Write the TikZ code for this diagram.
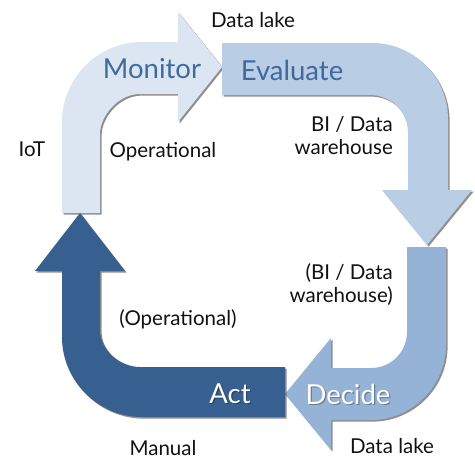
\documentclass[tikz,border=0pt]{standalone}
\usepackage{fontspec}
\setmainfont{Lato}
\usetikzlibrary{shadows}
\definecolor{monfill}{HTML}{DCE6F2}
\definecolor{evalfill}{HTML}{B9CDE5}
\definecolor{decfill}{HTML}{95B3D7}
\definecolor{actfill}{HTML}{375F8F}
\definecolor{headblue}{HTML}{3F6A9E}
\definecolor{labelgray}{HTML}{111111}
\begin{document}
\begin{tikzpicture}[x=1pt,y=-1pt,
  bentarrow/.style={draw=none, drop shadow={shadow xshift=1.6pt, shadow yshift=-1.6pt, opacity=0.55, fill=black!80}},
  headtext/.style={font=\fontsize{27.5}{32}\selectfont, anchor=base, inner sep=0pt},
  sidetext/.style={font=\fontsize{20.5}{23}\selectfont, text=labelgray, anchor=base, inner sep=0pt, align=center},
  sidetextr/.style={sidetext, align=right, anchor=base east}]
\useasboundingbox (0,0) rectangle (475,459);
\fill[white] (0,0) rectangle (475,459);

% Monitor: up from the bottom left, bending right
\fill[monfill, bentarrow]
  (62,213) -- (62,122) .. controls (62,78) and (98,42) .. (142,42)
  -- (178,42) -- (178,12) -- (222,67) -- (178,122) -- (178,94) -- (140,94)
  .. controls (118,94) and (100,116) .. (100,134) -- (100,213) -- cycle;

% Evaluate: right along the top, bending down
\fill[evalfill, bentarrow]
  (222,43) -- (372,43) .. controls (414,43) and (448,77) .. (448,119)
  -- (448,190) -- (472,190) -- (427,245) -- (382,190) -- (408,190) -- (408,133)
  .. controls (408,112) and (391,95) .. (370,95) -- (222,95) -- cycle;

% Decide: down the right side, bending left
\fill[decfill, bentarrow]
  (407,247) -- (446,247) -- (446,345) .. controls (446,386) and (412,420) .. (371,420)
  -- (331,420) -- (331,450) -- (285,394) -- (331,338) -- (331,368) -- (371,368)
  .. controls (391,368) and (407,352) .. (407,332) -- cycle;

% Act: left along the bottom, bending up
\fill[actfill, bentarrow]
  (285,367) -- (285,417) -- (142,417) .. controls (98,417) and (62,381) .. (62,337)
  -- (62,271) -- (35,271) -- (80,213) -- (125,271) -- (100,271) -- (100,330)
  .. controls (100,350) and (120,367) .. (140,367) -- cycle;

% step names
\node[headtext, text=headblue] (monitor) at (152,78) {Monitor};
\node[headtext, text=headblue] (evaluate) at (292,80) {Evaluate};
\node[headtext, text=black, opacity=0.3] (decideshadow) at (349.2,405.2) {Decide};
\node[headtext, text=white] (decide) at (348,404) {Decide};
\node[headtext, text=black, opacity=0.3] (actshadow) at (231.2,404.2) {Act};
\node[headtext, text=white] (act) at (230,403) {Act};

% system labels
\node[sidetext] (lake1) at (253,27) {Data lake};
\node[sidetext] (iot) at (32,156) {IoT};
\node[sidetext] (oper) at (163,157) {Operational};
\node[sidetextr] (bi) at (393,154) {BI / Data\\warehouse};
\node[sidetextr] (bi2) at (393,302) {(BI / Data\\warehouse)};
\node[sidetext] (oper2) at (178,325) {(Operational)};
\node[sidetext] (manual) at (163,455) {Manual};
\node[sidetext] (lake2) at (392,453) {Data lake};
\end{tikzpicture}
\end{document}
